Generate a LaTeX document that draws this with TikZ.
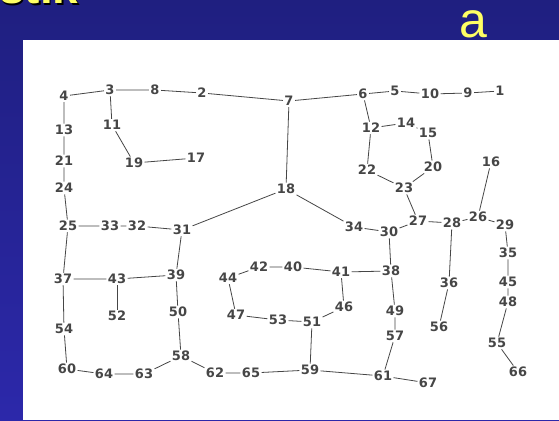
\documentclass[tikz,border=0pt]{standalone}
\usepackage{fontspec}
\setmainfont{DejaVu Sans}
\newfontfamily\slidefont{Liberation Sans}
\usepackage{xcolor}
\usetikzlibrary{positioning}

\definecolor{slidetop}{RGB}{31,31,128}
\definecolor{slidebottom}{RGB}{44,40,170}
\definecolor{titleyellow}{RGB}{255,255,100}
\definecolor{inkgray}{RGB}{70,70,70}

\begin{document}
\begin{tikzpicture}[
  x=1pt, y=-1pt,
  font=\bfseries\fontsize{13}{13}\selectfont,
  vertex/.style={inner sep=1.3pt, text=inkgray},
  link/.style={draw=inkgray, line width=0.8pt},
  title/.style={font=\slidefont\fontsize{46}{46}\selectfont\bfseries, inner sep=0pt, anchor=base west},
]
% slide background and white panel
\clip (0,0) rectangle (559,420);
\shade[top color=slidetop, bottom color=slidebottom] (0,0) rectangle (559,420);
\fill[white] (23,40) rectangle (559,420);

% slide texts
\node[title, text=black] (headshadow) at (0.5,5.5) {stik};
\node[title, text=titleyellow] (head) at (-1,4) {stik};
\node[font=\slidefont\fontsize{50}{50}\selectfont, text=titleyellow, inner sep=0pt, anchor=base] (mark) at (473,37.5) {a};

% vertices
\node[vertex] (v1) at (500,91) {1};
\node[vertex] (v2) at (202,93) {2};
\node[vertex] (v3) at (110,90) {3};
\node[vertex] (v4) at (64,96) {4};
\node[vertex] (v5) at (395,91) {5};
\node[vertex] (v6) at (363,94) {6};
\node[vertex] (v7) at (289,101) {7};
\node[vertex] (v8) at (155,90) {8};
\node[vertex] (v9) at (468,93) {9};
\node[vertex] (v10) at (430,94) {10};
\node[vertex] (v11) at (112,125) {11};
\node[vertex] (v12) at (371,128) {12};
\node[vertex] (v13) at (64,130) {13};
\node[vertex] (v14) at (406,123) {14};
\node[vertex] (v15) at (428,133) {15};
\node[vertex] (v16) at (491,162) {16};
\node[vertex] (v17) at (196,158) {17};
\node[vertex] (v18) at (286,189) {18};
\node[vertex] (v19) at (134,163) {19};
\node[vertex] (v20) at (433,167) {20};
\node[vertex] (v21) at (64,161) {21};
\node[vertex] (v22) at (367,170) {22};
\node[vertex] (v23) at (404,188) {23};
\node[vertex] (v24) at (64,188) {24};
\node[vertex] (v25) at (68,226) {25};
\node[vertex] (v26) at (478,217) {26};
\node[vertex] (v27) at (418,221) {27};
\node[vertex] (v28) at (452,223) {28};
\node[vertex] (v29) at (505,225) {29};
\node[vertex] (v30) at (389,232) {30};
\node[vertex] (v31) at (182,230) {31};
\node[vertex] (v32) at (137,226) {32};
\node[vertex] (v33) at (110,226) {33};
\node[vertex] (v34) at (354,227) {34};
\node[vertex] (v35) at (508,253) {35};
\node[vertex] (v36) at (449,283) {36};
\node[vertex] (v37) at (63,279) {37};
\node[vertex] (v38) at (391,271) {38};
\node[vertex] (v39) at (176,275) {39};
\node[vertex] (v40) at (293,267) {40};
\node[vertex] (v41) at (341,272) {41};
\node[vertex] (v42) at (259,267) {42};
\node[vertex] (v43) at (117,279) {43};
\node[vertex] (v44) at (228,278) {44};
\node[vertex] (v45) at (508,282) {45};
\node[vertex] (v46) at (344,307) {46};
\node[vertex] (v47) at (236,315) {47};
\node[vertex] (v48) at (508,302) {48};
\node[vertex] (v49) at (395,311) {49};
\node[vertex] (v50) at (178,312) {50};
\node[vertex] (v51) at (312,322) {51};
\node[vertex] (v52) at (117,316) {52};
\node[vertex] (v53) at (278,320) {53};
\node[vertex] (v54) at (64,329) {54};
\node[vertex] (v55) at (497,343) {55};
\node[vertex] (v56) at (439,327) {56};
\node[vertex] (v57) at (395,336) {57};
\node[vertex] (v58) at (181,356) {58};
\node[vertex] (v59) at (310,370) {59};
\node[vertex] (v60) at (67,369) {60};
\node[vertex] (v61) at (383,376) {61};
\node[vertex] (v62) at (215,373) {62};
\node[vertex] (v63) at (144,374) {63};
\node[vertex] (v64) at (104,374) {64};
\node[vertex] (v65) at (251,373) {65};
\node[vertex] (v66) at (518,372) {66};
\node[vertex] (v67) at (428,383) {67};

% top road
\draw[link] (v4) -- (v3) -- (v8) -- (v2) -- (v7) -- (v6) -- (v5) -- (v10) -- (v9) -- (v1);
\draw[link] (v3) -- (v11) -- (v19) -- (v17);
\draw[link] (v4) -- (v13) -- (v21) -- (v24) -- (v25);
\draw[link] (v7) -- (v18) -- (v31);
\draw[link] (v18) -- (v34) -- (v30) -- (v27) -- (v28) -- (v26) -- (v29);
\draw[link] (v25) -- (v33) -- (v32) -- (v31);
% right loop
\draw[link] (v6) -- (v12) -- (v14) -- (v15) -- (v20) -- (v23) -- (v22) -- (v12);
\draw[link] (v23) -- (v27);
\draw[link] (v16) -- (v26);
\draw[link] (v29) -- (v35) -- (v45) -- (v48) -- (v55) -- (v66);
\draw[link] (v28) -- (v36) -- (v56);
% middle block
\draw[link] (v30) -- (v38) -- (v41) -- (v40) -- (v42) -- (v44) -- (v47) -- (v53) -- (v51) -- (v46) -- (v41);
\draw[link] (v51) -- (v59);
\draw[link] (v38) -- (v49) -- (v57) -- (v61) -- (v67);
\draw[link] (v65) -- (v59) -- (v61);
% left block
\draw[link] (v25) -- (v37) -- (v43) -- (v39) -- (v31);
\draw[link] (v43) -- (v52);
\draw[link] (v39) -- (v50) -- (v58);
\draw[link] (v37) -- (v54) -- (v60) -- (v64) -- (v63) -- (v58) -- (v62) -- (v65);
\end{tikzpicture}
\end{document}
